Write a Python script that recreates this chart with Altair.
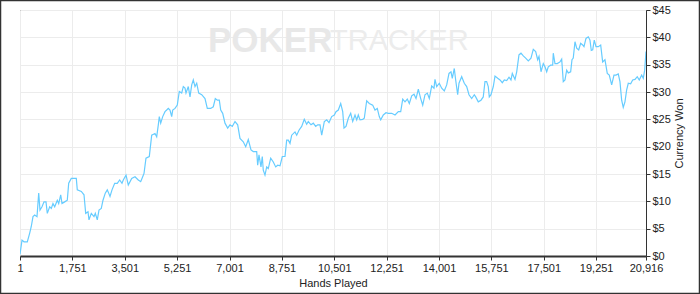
import altair as alt
import pandas as pd

hands = [1, 68, 134, 245, 325, 378, 435, 492, 569, 626, 669, 736, 803, 870, 913, 993, 1047, 1103, 1160, 1247,
         1294, 1361, 1404, 1494, 1581, 1628, 1715, 1882, 1915, 2049, 2139, 2196, 2273, 2306, 2383, 2473, 2517,
         2583, 2640, 2717, 2774, 2850, 2917, 2964, 3008, 3075, 3164, 3251, 3331, 3408,
         3452, 3543, 3619, 3733, 3843, 3953, 4034, 4100, 4144, 4210, 4321, 4401, 4511, 4568, 4622, 4655, 4702,
         4769, 4845, 4902, 4956, 5012, 5069, 5103, 5180, 5256, 5323, 5403, 5457, 5514, 5547, 5624, 5681, 5738,
         5791, 5848, 5905, 5972, 6072, 6182, 6259, 6372, 6459, 6526, 6593, 6660, 6707, 6773, 6850,
         6940, 7017, 7094, 7184, 7274, 7351, 7461, 7542, 7628, 7719, 7795, 7909, 7942, 7986, 8052, 8096, 8129,
         8186, 8243, 8296, 8377, 8464, 8544, 8611, 8688, 8765, 8855, 8911, 8965, 9022, 9078, 9189, 9246, 9322,
         9412, 9499, 9579, 9633, 9723, 9800, 9880, 9947, 10024, 10081, 10168, 10248, 10325, 10415, 10502,
         10559, 10636, 10716, 10783, 10826, 10893, 10970, 11050, 11117, 11194, 11251, 11304, 11361, 11451,
         11504, 11584, 11671, 11785, 11861, 11938, 12005, 12052, 12139, 12229, 12306, 12420, 12531, 12641,
         12721, 12788, 12864, 12941, 13008, 13088, 13165, 13232, 13309, 13389, 13456, 13532, 13609, 13676,
         13756, 13833, 13866, 13923, 14009,
         14090, 14177, 14257, 14334, 14401, 14444, 14511, 14557, 14624, 14668, 14758, 14845, 14925, 15002,
         15092, 15179, 15226, 15312, 15402, 15479, 15536, 15592, 15646, 15680, 15737, 15814, 15871, 15961,
         16038, 16115, 16182, 16262, 16339, 16405, 16449, 16539, 16596, 16672, 16739, 16816, 16896, 16983,
         17073, 17150, 17230, 17297, 17341, 17408, 17484,
         17541, 17598, 17651, 17731, 17798, 17818, 17875, 17952, 18042, 18099, 18152, 18209, 18266, 18319,
         18399, 18443, 18486, 18543, 18600, 18667, 18733, 18800, 18844, 18911, 18988, 19044, 19088, 19135,
         19188, 19245, 19322, 19402, 19468, 19545, 19622, 19689, 19769, 19846, 19913, 19989, 20046, 20103,
         20156, 20213, 20270, 20324, 20404, 20471, 20548, 20624, 20691, 20771, 20825, 20872, 20916]

won = [0.3, 2.9, 2.6, 2.6, 4.2, 5.4, 7.2, 7.5, 7.2, 11.5, 8.4, 9.0, 9.9, 9.9, 7.8, 9.0, 8.7, 9.6, 9.0, 10.2,
       9.6, 11.2, 9.6, 9.9, 10.2, 13.3, 14.2, 14.2, 12.1, 11.8, 11.2, 7.8, 8.1, 6.6, 7.8, 7.2, 7.8,
       6.6, 8.4, 8.7, 10.2, 11.5, 12.1, 11.5, 10.9, 12.1, 13.3, 13.3, 13.9, 13.3,
       13.9, 14.8, 13.0, 14.2, 14.5, 13.9, 13.6, 14.5, 15.1, 17.9, 18.2, 22.1, 22.4, 21.8, 24.0, 25.5, 24.3,
       25.5, 26.4, 26.7, 27.0, 26.7, 25.5, 26.7, 27.0, 27.6, 30.1, 29.8, 31.0, 30.7, 29.8, 31.0, 29.1, 31.3,
       32.2, 31.0, 31.6, 29.8, 29.5, 28.8, 27.0, 27.0, 27.3, 28.8, 28.5, 28.5, 26.7, 26.1, 24.3,
       23.4, 24.0, 23.7, 24.6, 24.0, 21.5, 20.9, 20.0, 21.3, 19.4, 19.1, 19.1, 16.6, 18.5, 16.3, 18.2, 15.7,
       14.8, 16.3, 16.0, 17.9, 17.2, 16.3, 16.6, 16.5, 18.2, 18.2, 21.2, 21.2, 20.6, 22.1, 22.7, 22.1, 23.0,
       23.7, 25.0, 24.1, 24.6, 24.0, 24.3, 23.7, 24.0, 24.0, 22.1, 24.6, 24.9, 24.4, 25.5, 25.8,
       26.4, 26.7, 27.9, 26.4, 23.4, 23.7, 25.2, 26.1, 24.6, 25.8, 24.9, 25.8, 24.9, 25.0,
       25.2, 28.4, 27.9, 27.6, 26.7, 27.0, 25.5, 24.9, 25.8, 26.2, 26.1, 26.1, 25.8, 26.4,
       26.4, 28.7, 28.2, 28.7, 27.9, 29.3, 29.6, 28.8, 30.5, 28.8, 27.6, 29.5, 29.8, 28.8,
       31.1, 30.7, 32.3, 31.0, 31.6,
       30.7, 30.2, 31.3, 33.4, 33.7, 32.5, 34.3, 32.2, 29.5, 31.6, 32.8, 31.6, 31.0, 29.5,
       28.8, 29.5, 29.1, 28.2, 28.5, 29.1, 31.9, 31.9, 31.0, 29.1, 29.5, 31.0, 32.9, 32.5,
       32.2, 31.7, 32.2, 32.1, 32.7, 32.2, 33.4, 32.3, 33.7, 36.8, 37.1, 36.6, 36.2, 35.7,
       36.2, 37.8, 37.4, 35.9, 36.5, 33.7, 35.2,
       34.6, 33.7, 34.6, 34.9, 34.9, 37.1, 35.2, 35.2, 35.5, 36.0, 31.9, 32.2, 34.0, 33.5,
       33.7, 35.9, 36.2, 39.2, 38.0, 37.7, 38.9, 38.6, 38.3, 39.8, 40.1, 39.5, 37.6, 37.7,
       39.5, 38.3, 38.3, 38.6, 35.5, 35.9, 33.4, 33.1, 31.3, 33.1, 33.1, 33.3, 31.9, 28.5,
       27.2, 28.2, 30.4, 31.6, 31.5, 32.2, 32.3, 32.8, 32.2, 33.1, 32.5, 34.0, 37.4]

x_ticks = [1, 1751, 3501, 5251, 7001, 8751, 10501, 12251, 14001, 15751, 17501, 19251, 20916]
y_ticks = [0, 5, 10, 15, 20, 25, 30, 35, 40, 45]

df = pd.DataFrame({"hands": hands, "won": won})
one = pd.DataFrame({"k": [0]})

FONT = "Liberation Sans"

line = alt.Chart(df).mark_line(color="#66CCFF", strokeWidth=1.2, clip=True).encode(
    x=alt.X("hands:Q",
            scale=alt.Scale(domain=[1, 20916], nice=False, zero=False),
            axis=alt.Axis(values=x_ticks, format=",d", title="Hands Played",
                          labelFlush=False, labelOverlap=False, gridColor="#ececec",
                          domainColor="#333", domainWidth=2, tickColor="#333", tickSize=4,
                          labelFont=FONT, labelFontSize=11, labelColor="#222", labelPadding=2,
                          titleFont=FONT, titleFontSize=11, titleFontWeight="normal",
                          titleColor="#222", titlePadding=4)),
    y=alt.Y("won:Q",
            scale=alt.Scale(domain=[0, 45], nice=False, zero=True),
            axis=alt.Axis(orient="right", values=y_ticks, labelExpr="'$' + datum.value",
                          title="Currency Won", titleAngle=270, titleX=33, titleY=123,
                          titleAlign="center", titleBaseline="middle", gridColor="#ececec",
                          domainColor="#333", domainWidth=1, tickColor="#333", tickSize=4,
                          labelFont=FONT, labelFontSize=11, labelColor="#222", labelPadding=2,
                          labelFlush=False, labelOverlap=False,
                          titleFont=FONT, titleFontSize=11, titleFontWeight="normal",
                          titleColor="#222")),
)

wm_poker = alt.Chart(one).mark_text(
    align="left", baseline="middle", font=FONT, fontSize=35, fontWeight="bold", color="#e8e8e8"
).encode(x=alt.value(188), y=alt.value(31), text=alt.value("POKER"))

wm_tracker = alt.Chart(one).mark_text(
    align="left", baseline="middle", font=FONT, fontSize=29,
    fontWeight="normal", color="#ececec"
).encode(x=alt.value(310), y=alt.value(31), text=alt.value("TRACKER"))

frame = alt.Chart(one).mark_rect(fillOpacity=0, stroke="#333", strokeWidth=1.5).encode(
    x=alt.value(-19.5), x2=alt.value(679.5), y=alt.value(-9.5), y2=alt.value(283.5)
)

chart = alt.layer(wm_poker, wm_tracker, line, frame).properties(
    width=626, height=246,
    autosize=alt.AutoSizeParams(type="none"),
    padding={"left": 20, "top": 10, "right": 54, "bottom": 38},
    background="white",
).configure_view(stroke="#333", strokeWidth=1)

chart.save("out.html", embed_options={"renderer": "svg", "actions": False})
